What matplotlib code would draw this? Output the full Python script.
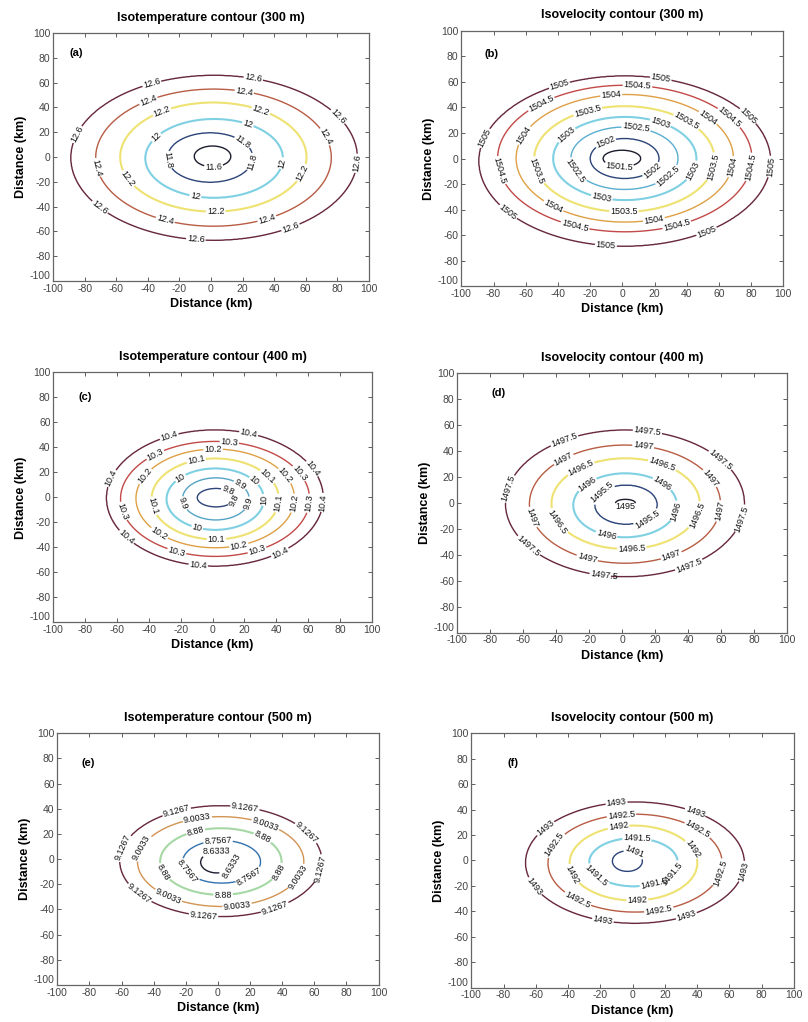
import matplotlib
matplotlib.use("Agg")
import matplotlib.pyplot as plt
import numpy as np

plt.rcParams['font.family'] = ['Liberation Sans', 'DejaVu Sans']
plt.rcParams['axes.unicode_minus'] = False

# ---- values: contour levels and ellipse geometry (km) ----
# (a) isotemperature 300 m
levels_a = [11.6, 11.8, 12.0, 12.2, 12.4, 12.6]
semi_x_a = [11.6, 27.0, 43.6, 59.0, 74.6, 90.6]
semi_y_a = [8.4, 20.0, 31.8, 44.0, 55.3, 66.4]
cx_a = [1.0, -0.5, 2.0, 1.5, 1.6, 2.0]
cy_a = [0.5, -0.4, -1.1, 0.0, -0.5, -0.6]

# (b) isovelocity 300 m
levels_b = [1501.5, 1502.0, 1502.5, 1503.0, 1503.5, 1504.0, 1504.5, 1505.0]
semi_x_b = [11.7, 21.4, 33.3, 44.5, 56.0, 67.5, 79.0, 90.5]
semi_y_b = [6.5, 15.7, 24.5, 32.6, 41.4, 50.0, 57.4, 66.6]
cx_b = [-0.3, 1.4, 1.3, 1.5, 1.2, 1.5, 1.5, 1.5]
cy_b = [0.0, 0.0, 0.2, 0.0, -0.4, 0.2, 0.0, -2.0]

# (c) isotemperature 400 m
levels_c = [9.8, 9.9, 10.0, 10.1, 10.2, 10.3, 10.4]
semi_x_c = [11.8, 21.0, 30.6, 40.0, 49.8, 59.4, 68.0]
semi_y_c = [7.4, 16.9, 24.6, 32.4, 39.5, 46.0, 54.4]
cx_c = [2.2, 2.1, 1.7, 1.7, 1.7, 1.6, 1.5]
cy_c = [-0.2, -1.2, -1.4, -1.2, -0.8, -1.2, -0.5]

# (d) isovelocity 400 m
levels_d = [1495.0, 1495.5, 1496.0, 1496.5, 1497.0, 1497.5]
semi_x_d = [6.0, 19.0, 31.5, 45.0, 58.0, 72.4]
semi_y_d = [2.8, 15.2, 24.7, 35.0, 45.6, 56.5]
cx_d = [2.0, 2.3, 1.8, 2.1, 1.7, 1.7]
cy_d = [0.0, -1.3, -1.8, -0.5, -0.9, -0.3]

# (e) isotemperature 500 m
levels_e = [8.6333, 8.7567, 8.88, 9.0033, 9.1267]
semi_x_e = [10.2, 24.3, 37.8, 51.8, 62.8]
semi_y_e = [8.5, 17.0, 26.5, 35.7, 44.0]
cx_e = [-0.6, 2.3, 1.8, 1.7, 1.8]
cy_e = [-2.5, -2.1, -1.9, -1.9, -1.6]

# (f) isovelocity 500 m
levels_f = [1491.0, 1491.5, 1492.0, 1492.5, 1493.0]
semi_x_f = [9.3, 27.5, 39.6, 54.0, 67.7]
semi_y_f = [8.1, 19.0, 29.5, 38.5, 47.6]
cx_f = [-3.3, 0.5, 0.5, 1.5, 1.4]
cy_f = [-0.5, -1.4, -2.0, -2.1, -1.7]

titles = ['Isotemperature contour (300 m)', 'Isovelocity contour (300 m)',
          'Isotemperature contour (400 m)', 'Isovelocity contour (400 m)',
          'Isotemperature contour (500 m)', 'Isovelocity contour (500 m)']
tags = ['(a)', '(b)', '(c)', '(d)', '(e)', '(f)']

# ---- styling ----
MAROON = '#66283a'
RED = '#c24a48'
BROWN = '#b85c44'
ORANGE = '#dea045'
TAN = '#d29452'
YELLOW = '#eee272'
CYAN = '#7fd0e2'
LBLUE = '#5aaed0'
TEAL = '#56a4c4'
GREEN = '#a6d8a6'
BLUE = '#3272b0'
NAVY = '#2c4478'
DARK = '#1c1e2e'

colors = {
    'a': [DARK, NAVY, CYAN, YELLOW, BROWN, MAROON],
    'b': [DARK, NAVY, LBLUE, CYAN, YELLOW, ORANGE, RED, MAROON],
    'c': [NAVY, TEAL, CYAN, YELLOW, ORANGE, RED, MAROON],
    'd': [DARK, NAVY, CYAN, YELLOW, BROWN, MAROON],
    'e': [DARK, BLUE, GREEN, TAN, MAROON],
    'f': [NAVY, CYAN, YELLOW, BROWN, MAROON],
}

# axes rectangles in figure fraction [left, bottom, width, height]
rects = {
    'a': [0.0656, 0.725, 0.391, 0.2427],
    'b': [0.571, 0.720, 0.3985, 0.2498],
    'c': [0.066, 0.391, 0.394, 0.2446],
    'd': [0.566, 0.381, 0.408, 0.2537],
    'e': [0.0709, 0.0362, 0.3977, 0.2463],
    'f': [0.5833, 0.0336, 0.3994, 0.2489],
}

# where the inline labels sit (clabel snaps them onto the nearest contour)
label_spots = {
    'a': [(-37, 58), (27, 64), (78, 29), (91.5, -5), (50, -56), (-10, -69), (-71, -41.5), (-84.5, 18),
          (-39.5, 45), (21, 51.5), (70, 15), (-74, -9), (-29, -51), (35.5, -50.4),
          (-30.4, 35), (31, 35), (58, -13), (-54, -19), (3, -45),
          (-35, 16.5), (23, 25), (45, -5), (-10, -32.6),
          (-27, -2.4), (21, 14), (27.5, -4.6),
          (1.7, -8.5)],
    'b': [(-39, 55.6), (23.8, 62), (77.6, 32.6), (92.8, -6.5), (51.8, -55.6), (-10.4, -69), (-71.4, -42.5), (-86, 16.4),
          (-50.3, 42.6), (9.3, 55.6), (65, 30), (78.7, -6.5), (34, -53), (-30, -55.6), (-78.7, -10.4),
          (-6.8, 47.5), (52.8, 31.3), (68, -6.5), (19.7, -48.3), (-43.5, -39), (-61, 18),
          (-21, 34), (39.3, 28), (56, -6.5), (1, -43), (-55, -10.4),
          (23.8, 28.7), (43, -9), (-13, -32), (-34, 17.5),
          (8.3, 19.6), (28.6, -14.4), (-29.6, -10.4),
          (-10.4, 12.3), (18.6, -9.7),
          (-2, -6.5)],
    'c': [(-26.8, 47.2), (21.8, 48.5), (62, 22.4), (71, -4.3), (42, -43.5), (-9, -55), (-55.6, -34), (-63, 15.2),
          (-36.2, 34.7), (10.5, 43.2), (52.7, 17.3), (61, -4.8), (28.2, -43), (-22.6, -44), (-57.7, -11.5),
          (0.4, 36.5), (42.7, 14.4), (51.7, -4.8), (16.7, -39.5), (-33.5, -28.8), (-42, 16.5),
          (-10, 27.7), (32.8, 14.4), (41.8, -4.8), (2.5, -33.6), (-39.3, -7.5),
          (-20.5, 16.5), (25.5, 12.5), (32.8, -2), (-9.6, -24),
          (17.2, 10), (21.8, -4.8), (-19, -5.3),
          (9.4, 4.5), (13, -2.1)],
    'd': [(-34, 45.5), (15.2, 51.7), (58.6, 31.9), (73, -12.6), (40.4, -47.8), (-11, -57.3), (-57.6, -34.2), (-66.7, 10),
          (-35.8, 34.4), (12.7, 42.9), (54.5, 20.3), (61.2, -6.7), (30.3, -42.2), (-21.6, -44), (-56.6, -11.8),
          (-24.6, 25.4), (24.2, 29.3), (46.5, -10.5), (6, -37.5), (-40.4, -15.7),
          (-21.6, 15.2), (24.2, 14.7), (33, -6.7), (-10, -26),
          (-12, 7.5), (15.2, -12.6),
          (2, -3)],
    'e': [(-25.7, 36.5), (16.8, 40.5), (54, 19.3), (63, -7.2), (35.5, -39), (-9.1, -46.4), (-49.6, -28.3), (-57.9, 8.7),
          (-12.7, 31.3), (29.3, 26), (49, -13.8), (12, -38.1), (-31, -29.7), (-45.4, 7.4),
          (-13.9, 22), (27.2, 15.4), (38.2, -10.6), (3.3, -29.7), (-34.4, -10.6),
          (0, 15.4), (19.5, -13.8), (-20.5, -11.1),
          (-0.8, 5.3), (10.6, -7.2)],
    'f': [(-9.9, 44.6), (38, 35.1), (67.4, -8.7), (32.9, -42.7), (-18.8, -48.8), (-62.2, -21.8), (-53.3, 24.1),
          (-7, 35.9), (39, 21.5), (55, -10), (16.3, -39.3), (-34.7, -32.2), (-48.3, 12.3),
          (-8.5, 24.6), (37, 8.9), (-39.9, -12.6), (2.9, -30.9),
          (2.5, 15.2), (25.6, -11.3), (-22.5, -12),
          (0.8, 5.8), (11.6, -10)],
}
tag_spots = {'a': (-85, 84), 'b': (-81, 82), 'c': (-80, 80.5),
             'd': (-75, 84.5), 'e': (-81, 76), 'f': (-74, 76.5)}

panels = {
    'a': (levels_a, semi_x_a, semi_y_a, cx_a, cy_a),
    'b': (levels_b, semi_x_b, semi_y_b, cx_b, cy_b),
    'c': (levels_c, semi_x_c, semi_y_c, cx_c, cy_c),
    'd': (levels_d, semi_x_d, semi_y_d, cx_d, cy_d),
    'e': (levels_e, semi_x_e, semi_y_e, cx_e, cy_e),
    'f': (levels_f, semi_x_f, semi_y_f, cx_f, cy_f),
}

xs = np.linspace(-100, 100, 501)
X, Y = np.meshgrid(xs, xs)


def ring_field(levels, sx, sy, cx, cy):
    # value surface whose level sets are the measured ellipses
    g = np.array([np.hypot((X - x0) / a, (Y - y0) / b) - 1
                  for a, b, x0, y0 in zip(sx, sy, cx, cy)])
    v = np.asarray(levels)
    n = len(v)
    m = (g > 0).sum(axis=0)          # rings the point lies outside of
    k = np.clip(m - 1, 0, n - 2)
    gk = np.take_along_axis(g, k[None], 0)[0]
    gk1 = np.take_along_axis(g, (k + 1)[None], 0)[0]
    den = np.where(np.abs(gk - gk1) < 1e-9, 1e-9, gk - gk1)
    z = v[k] + (v[k + 1] - v[k]) * gk / den
    # inside the innermost ring / outside the outermost ring
    z = np.where(m == 0, v[0] + (v[1] - v[0]) * g[0], z)
    z = np.where(m == n, v[-1] + (v[-1] - v[-2]) * g[-1], z)
    return z


fig = plt.figure(figsize=(8.08, 10.22), dpi=100)

for i, key in enumerate(['a', 'b', 'c', 'd', 'e', 'f']):
    ax = fig.add_axes(rects[key])
    lev, sx, sy, cx, cy = panels[key]
    Z = ring_field(lev, sx, sy, cx, cy)
    lw = [1.5 if c in (CYAN, YELLOW, GREEN) else 1.0 for c in colors[key]]
    cs = ax.contour(X, Y, Z, levels=lev, colors=colors[key], linewidths=lw)
    ax.clabel(cs, fmt='%g', fontsize=6.5, colors='#111111', inline=True,
              inline_spacing=1, manual=label_spots[key])

    ax.set_xlim(-100, 100)
    ax.set_ylim(-100, 100)
    ax.set_xticks(np.arange(-100, 101, 20))
    ax.set_yticks(np.arange(-100, 101, 20))
    ax.tick_params(direction='in', top=True, right=True, length=3, width=0.6,
                   labelsize=7.5, colors='#444444', pad=2)
    ax.get_yticklabels()[0].set_verticalalignment('bottom')
    for sp in ax.spines.values():
        sp.set_color('#666666')
        sp.set_linewidth(0.9)
    ax.set_title(titles[i], fontsize=9, fontweight='bold', pad=9)
    ax.set_xlabel('Distance (km)', fontsize=9, fontweight='bold', labelpad=3)
    ax.set_ylabel('Distance (km)', fontsize=9, fontweight='bold', labelpad=2)
    tx, ty = tag_spots[key]
    ax.text(tx, ty, tags[i], fontsize=8, fontweight='bold', ha='center', va='center')

fig.savefig('out.png', dpi=100)
